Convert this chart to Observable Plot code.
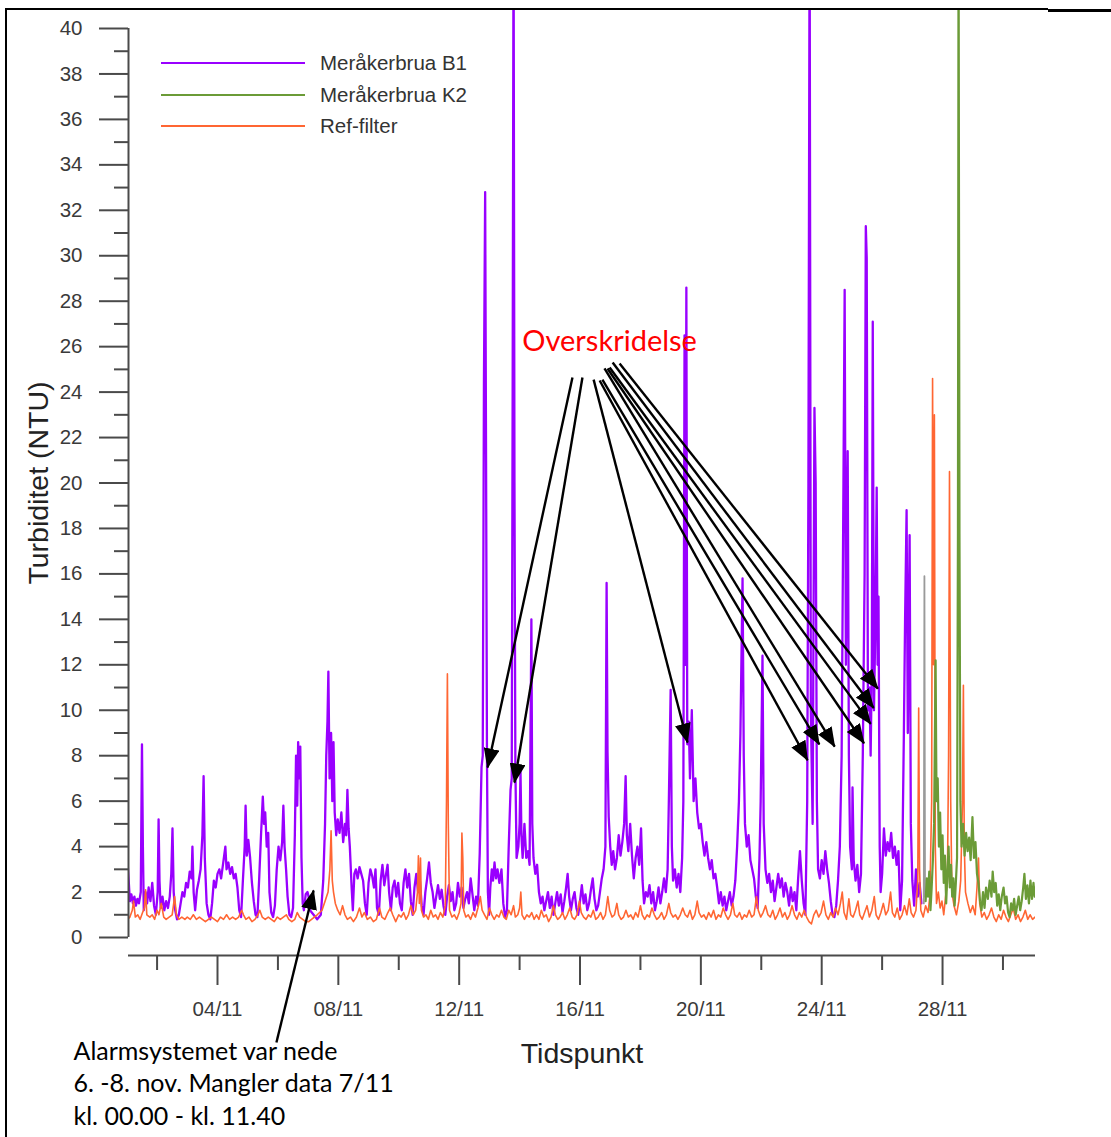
<!DOCTYPE html>
<html>
<head>
<meta charset="utf-8">
<script src="https://cdn.jsdelivr.net/npm/d3@7"></script>
<script src="https://cdn.jsdelivr.net/npm/@observablehq/plot@0.6"></script>
<style>
html, body { margin: 0; padding: 0; background: #fff; }
#wrap { position: relative; width: 1111px; height: 1137px; overflow: hidden; background: #fff; }
#wrap svg { position: absolute; left: 0; top: 0; }
.legend-item { position: absolute; height: 24px; font-family: "Liberation Sans", Arial, sans-serif; font-size: 20.5px; color: #333; }
.legend-line { position: absolute; left: 0; top: 11px; width: 144px; height: 2px; }
.legend-text { position: absolute; left: 159px; top: 0; white-space: nowrap; line-height: 24px; }
.border { position: absolute; background: #000; }
</style>
</head>
<body>
<div id="wrap"></div>
<script>
// ---------- series meta ----------
const seriesNames = ["Meråkerbrua B1", "Meråkerbrua K2", "Ref-filter"];
const seriesColors = ["#9900ff", "#6b9b37", "#ff6633"];
const transitionColor = "#9a9a9a";

// ---------- axes ----------
const xDomainDays = [1.054, 31.077];          // day of November (fractional)
const yDomain = [-0.792, 40.792];
const yMajorTicks = d3.range(0, 41, 2);
const yMinorTicks = d3.range(1, 40, 2);
const xMajorTickDays = [4, 8, 12, 16, 20, 24, 28];
const xMajorTickLabels = ["04/11", "08/11", "12/11", "16/11", "20/11", "24/11", "28/11"];
const xMinorTickDays = [2, 6, 10, 14, 18, 22, 26, 30];
const yLabel = "Turbiditet (NTU)";
const xLabel = "Tidspunkt";

// ---------- data: [day of November, NTU] ----------
const b1 = [
[1.02,3.4],[1.06,2.5],[1.10,1.6],[1.15,1.9],[1.20,1.5],[1.25,1.8],[1.30,1.4],[1.35,1.7],[1.40,1.5],[1.46,2.0],[1.50,8.5],[1.53,4.0],[1.56,1.2],[1.62,2.0],[1.67,1.5],[1.72,2.2],[1.78,1.6],[1.84,2.4],[1.90,1.4],[1.96,1.0],
[2.02,2.0],[2.05,5.2],[2.08,2.5],[2.12,1.3],[2.18,1.8],[2.24,1.2],[2.30,1.6],[2.36,1.3],[2.42,1.8],[2.47,2.8],[2.51,4.8],[2.55,2.0],[2.60,1.2],[2.66,0.8],[2.72,1.0],[2.78,1.5],[2.84,2.0],[2.90,1.8],[2.96,2.4],
[3.02,2.2],[3.08,2.9],[3.14,2.6],[3.17,4.0],[3.21,2.0],[3.26,1.2],[3.32,2.1],[3.38,2.5],[3.44,3.0],[3.50,4.5],[3.54,7.1],[3.58,3.5],[3.64,1.5],[3.70,1.0],[3.76,0.8],[3.82,1.5],[3.88,2.5],[3.94,2.2],
[4.00,2.8],[4.06,3.0],[4.12,2.6],[4.18,3.2],[4.26,4.0],[4.30,3.0],[4.36,3.3],[4.42,2.8],[4.48,3.1],[4.54,2.6],[4.60,2.8],[4.66,2.2],[4.72,1.2],[4.78,0.9],[4.84,2.5],[4.90,4.0],[4.93,5.8],[4.97,3.6],
[5.02,4.3],[5.08,3.5],[5.14,2.4],[5.20,1.6],[5.26,1.0],[5.32,0.9],[5.38,2.6],[5.44,4.5],[5.50,6.2],[5.54,5.0],[5.58,5.5],[5.63,4.0],[5.68,4.6],[5.72,2.0],[5.78,1.1],[5.84,0.9],[5.90,1.4],[5.96,3.0],
[6.02,4.0],[6.08,3.4],[6.14,4.2],[6.18,5.8],[6.22,4.0],[6.27,3.0],[6.32,1.8],[6.38,1.0],[6.44,0.9],[6.50,1.3],[6.56,4.5],[6.60,8.0],[6.64,5.8],[6.67,8.6],[6.70,7.0],[6.74,8.4],[6.78,3.5],[6.82,1.5],[6.86,1.2],[6.92,1.9],[6.98,2.0],
[7.03,1.7],[7.06,1.2],[7.30,0.8],[7.42,1.0],[7.50,2.5],[7.56,5.0],[7.60,8.0],[7.64,9.5],[7.67,11.7],[7.71,7.0],[7.76,9.0],[7.80,6.0],[7.84,8.6],[7.88,5.5],[7.93,4.5],[7.98,5.2],
[8.04,4.6],[8.10,5.5],[8.16,4.2],[8.22,5.0],[8.26,4.5],[8.30,6.5],[8.34,4.8],[8.38,4.0],[8.44,2.2],[8.48,1.2],[8.53,2.8],[8.58,3.0],[8.64,2.6],[8.70,3.1],[8.76,2.8],[8.82,2.5],[8.88,1.5],[8.94,1.0],
[9.00,2.4],[9.06,3.0],[9.12,2.7],[9.18,2.2],[9.23,3.0],[9.28,1.3],[9.34,1.0],[9.40,2.5],[9.46,3.2],[9.52,2.3],[9.58,2.8],[9.63,3.2],[9.68,2.0],[9.74,1.2],[9.80,2.2],[9.86,2.5],[9.92,1.8],[9.98,2.4],
[10.04,1.5],[10.10,1.2],[10.16,2.4],[10.22,3.0],[10.28,2.2],[10.34,2.8],[10.40,1.6],[10.46,1.0],[10.52,2.2],[10.58,2.8],[10.64,2.0],[10.70,2.5],[10.76,1.4],[10.82,1.0],[10.88,2.0],[10.94,2.6],
[11.00,3.3],[11.06,2.4],[11.12,2.0],[11.18,1.3],[11.24,1.8],[11.30,2.3],[11.36,1.7],[11.42,2.1],[11.48,1.4],[11.54,1.0],[11.60,1.8],[11.66,2.3],[11.72,1.6],[11.78,2.0],[11.84,1.2],[11.90,1.5],[11.96,2.4],
[12.02,1.8],[12.08,2.2],[12.14,1.3],[12.20,1.7],[12.26,2.0],[12.32,1.5],[12.38,2.6],[12.44,1.9],[12.50,1.2],[12.56,1.8],[12.62,1.4],[12.68,3.7],[12.74,7.5],[12.78,8.0],[12.82,24.5],[12.86,32.8],[12.89,21.0],[12.92,8.0],[12.95,2.0],[12.99,1.0],
[13.03,2.2],[13.08,3.0],[13.12,2.5],[13.17,3.3],[13.22,2.6],[13.27,3.0],[13.33,2.4],[13.40,3.0],[13.46,1.5],[13.52,0.9],[13.58,1.2],[13.64,4.0],[13.70,6.5],[13.74,7.0],[13.77,24.0],[13.80,45],[13.83,20.0],[13.86,7.5],[13.90,3.5],[13.96,4.0],
[14.00,5.0],[14.03,7.3],[14.06,4.5],[14.10,3.5],[14.16,5.0],[14.22,3.5],[14.28,3.8],[14.33,3.2],[14.39,14.0],[14.42,5.0],[14.46,3.5],[14.52,2.8],[14.58,3.2],[14.64,2.0],[14.70,1.5],[14.76,1.8],[14.82,1.2],[14.88,1.6],[14.94,2.0],
[15.00,1.3],[15.06,1.8],[15.12,1.0],[15.18,1.5],[15.24,2.0],[15.30,1.4],[15.36,1.9],[15.42,1.1],[15.48,1.6],[15.54,2.2],[15.59,2.8],[15.64,1.8],[15.70,1.2],[15.76,1.7],[15.82,2.0],[15.88,1.3],[15.94,1.0],
[16.00,1.6],[16.06,2.3],[16.12,1.5],[16.18,1.9],[16.24,1.2],[16.30,1.5],[16.36,2.1],[16.42,2.6],[16.48,1.7],[16.54,1.2],[16.60,1.4],[16.66,2.0],[16.72,2.6],[16.78,3.0],[16.84,4.0],[16.88,15.6],[16.91,8.2],[16.95,5.3],
[17.00,4.0],[17.05,3.2],[17.10,3.8],[17.16,3.0],[17.22,3.5],[17.28,4.5],[17.34,3.6],[17.40,4.2],[17.46,5.0],[17.51,7.1],[17.55,4.5],[17.60,3.8],[17.66,5.0],[17.72,3.6],[17.78,2.6],[17.84,3.5],[17.90,4.0],[17.96,3.2],
[18.02,4.8],[18.07,2.5],[18.12,1.5],[18.18,2.0],[18.24,1.8],[18.30,2.3],[18.36,1.5],[18.42,2.0],[18.48,1.2],[18.54,1.6],[18.60,2.2],[18.66,1.5],[18.72,2.0],[18.78,2.6],[18.84,2.0],[18.90,3.0],[18.94,6.0],
[19.00,10.9],[19.04,4.0],[19.08,2.5],[19.14,3.0],[19.20,2.2],[19.26,2.8],[19.32,2.0],[19.38,3.5],[19.42,6.0],[19.46,26.5],[19.49,12.0],[19.52,28.6],[19.55,8.5],[19.60,9.5],[19.64,7.0],[19.70,10.0],[19.76,6.0],[19.82,7.0],[19.88,5.5],[19.94,4.8],
[20.00,5.0],[20.06,4.2],[20.12,3.6],[20.18,4.2],[20.24,3.5],[20.30,3.0],[20.36,3.4],[20.42,2.6],[20.48,2.8],[20.54,2.2],[20.60,1.5],[20.66,2.0],[20.72,1.4],[20.78,1.8],[20.84,1.2],[20.90,1.6],[20.96,2.0],
[21.02,1.4],[21.08,1.8],[21.14,2.5],[21.20,4.0],[21.26,6.0],[21.31,9.0],[21.38,15.8],[21.42,8.0],[21.46,5.0],[21.52,4.0],[21.58,4.5],[21.64,3.4],[21.70,3.0],[21.76,2.6],[21.82,1.8],[21.88,1.3],[21.94,3.5],[21.98,6.0],
[22.04,12.4],[22.08,5.0],[22.14,3.0],[22.20,2.4],[22.26,2.8],[22.32,2.0],[22.38,2.5],[22.44,1.6],[22.50,2.2],[22.56,2.8],[22.62,2.2],[22.68,2.6],[22.74,1.8],[22.80,2.4],[22.86,2.0],[22.92,1.4],[22.98,2.2],
[23.04,1.6],[23.10,2.0],[23.16,1.2],[23.22,2.6],[23.28,3.8],[23.34,2.5],[23.40,1.5],[23.46,1.0],[23.52,6.0],[23.56,20.0],[23.60,45],[23.64,10.0],[23.70,5.0],[23.76,23.3],[23.80,20.0],[23.84,6.0],[23.88,3.0],[23.94,2.6],
[24.00,3.4],[24.06,2.8],[24.12,3.8],[24.18,3.0],[24.24,2.4],[24.30,1.6],[24.36,1.0],[24.42,0.9],[24.48,1.4],[24.54,2.5],[24.60,4.0],[24.66,8.0],[24.72,20.0],[24.76,28.5],[24.80,12.0],[24.86,21.4],[24.90,8.0],[24.94,4.0],
[25.00,3.0],[25.02,6.6],[25.06,3.4],[25.12,2.5],[25.18,3.2],[25.24,2.0],[25.30,2.8],[25.36,8.0],[25.42,16.0],[25.46,31.3],[25.49,29.9],[25.53,10.0],[25.58,11.0],[25.62,8.0],[25.66,12.0],[25.69,27.1],[25.73,10.0],[25.78,14.0],[25.82,19.8],[25.85,12.0],[25.88,15.0],[25.92,4.0],[25.95,2.0],
[26.00,2.8],[26.06,4.8],[26.12,3.6],[26.18,4.2],[26.24,3.8],[26.30,4.6],[26.36,3.5],[26.42,4.0],[26.48,3.2],[26.54,3.8],[26.60,1.2],[26.66,2.5],[26.72,9.0],[26.76,14.0],[26.81,18.8],[26.85,9.0],[26.91,17.7],[26.95,5.0],
[27.00,2.5],[27.06,1.4],[27.12,3.0],[27.18,1.8],[27.24,2.4],[27.30,1.5]
];

const k2Start = [[27.38,1.5],[27.40,15.9],[27.42,1.8]];

const k2 = [
[27.44,1.6],[27.48,2.6],[27.52,1.8],[27.56,2.9],[27.60,1.2],[27.64,2.2],[27.68,3.4],[27.72,5.0],[27.77,12.2],[27.80,6.0],[27.84,7.0],[27.88,4.0],[27.92,5.5],[27.96,3.0],
[28.00,4.5],[28.04,2.4],[28.08,3.6],[28.12,1.5],[28.16,2.8],[28.20,4.0],[28.24,2.2],[28.28,3.2],[28.32,1.8],[28.36,2.6],[28.40,1.4],[28.44,2.4],[28.48,3.5],[28.51,18.0],[28.53,45],[28.56,17.8],[28.59,6.0],[28.63,4.0],[28.68,5.0],[28.73,3.6],[28.78,4.6],[28.83,3.8],[28.88,4.4],[28.93,3.4],[28.99,5.3],
[29.04,3.5],[29.09,4.2],[29.14,2.8],[29.19,2.4],[29.24,1.6],[29.29,1.2],[29.34,2.0],[29.39,1.3],[29.44,2.2],[29.50,1.7],[29.56,2.5],[29.62,1.8],[29.66,2.9],[29.71,2.0],[29.76,2.4],[29.81,1.4],[29.86,1.9],[29.91,1.2],[29.96,1.8],
[30.02,2.2],[30.07,1.5],[30.12,1.8],[30.17,1.1],[30.22,0.9],[30.27,1.5],[30.32,1.2],[30.37,1.7],[30.42,1.0],[30.47,1.4],[30.52,1.8],[30.57,1.2],[30.62,1.6],[30.67,2.2],[30.71,2.8],[30.76,1.7],[30.81,2.3],[30.86,1.5],[30.91,2.5],[30.96,1.7],
[31.01,2.4],[31.05,1.8],[31.08,2.2]
];

const refFilter = [
[1.02,0.8],[1.10,0.9],[1.18,1.2],[1.22,1.6],[1.28,0.9],[1.36,1.0],[1.44,0.8],[1.52,1.1],[1.58,1.3],[1.62,2.1],[1.66,1.0],[1.76,0.9],[1.84,1.0],[1.92,0.8],
[2.00,1.2],[2.06,1.0],[2.14,1.5],[2.22,0.9],[2.30,0.8],[2.40,0.9],[2.50,1.0],[2.58,1.8],[2.64,1.0],[2.72,0.8],[2.82,0.9],[2.92,0.8],
[3.00,0.9],[3.10,0.8],[3.20,1.0],[3.30,0.8],[3.40,0.9],[3.50,0.8],[3.60,0.7],[3.70,0.8],[3.80,0.9],[3.90,0.8],
[4.00,0.7],[4.10,0.9],[4.20,0.8],[4.30,1.0],[4.40,0.8],[4.50,0.9],[4.60,0.8],[4.70,0.9],[4.80,1.2],[4.86,1.0],[4.94,0.8],
[5.04,0.9],[5.14,0.7],[5.24,0.8],[5.34,1.0],[5.40,1.2],[5.48,0.9],[5.58,0.8],[5.68,0.9],[5.78,0.8],[5.88,0.7],[5.98,0.9],
[6.08,0.8],[6.18,0.9],[6.28,1.0],[6.36,0.8],[6.46,0.7],[6.56,0.8],[6.64,1.1],[6.72,0.9],[6.82,0.8],[6.92,0.7],
[7.02,0.7],[7.30,1.0],[7.46,1.2],[7.56,1.6],[7.66,2.0],[7.72,3.0],[7.76,4.7],[7.80,2.5],[7.84,2.0],[7.90,1.5],[7.98,1.2],
[8.06,1.0],[8.14,1.4],[8.22,1.0],[8.30,0.8],[8.40,0.9],[8.50,0.7],[8.60,0.9],[8.70,1.3],[8.78,0.9],[8.86,1.1],[8.96,0.8],
[9.06,0.9],[9.16,0.7],[9.26,0.8],[9.36,1.3],[9.44,0.9],[9.54,0.8],[9.64,1.1],[9.72,1.3],[9.80,1.0],[9.90,0.7],
[10.00,1.0],[10.08,0.9],[10.16,1.1],[10.24,0.8],[10.32,1.0],[10.40,1.4],[10.48,1.0],[10.56,1.2],[10.62,2.0],[10.65,3.6],[10.68,1.5],[10.72,3.5],[10.75,1.2],[10.82,0.9],[10.90,1.0],[10.98,0.8],
[11.06,1.2],[11.14,0.9],[11.22,1.0],[11.30,0.8],[11.38,1.1],[11.46,0.9],[11.54,1.4],[11.58,6.0],[11.61,11.6],[11.64,5.0],[11.68,1.2],[11.76,0.9],[11.84,1.0],[11.92,0.8],
[12.00,1.1],[12.06,1.5],[12.09,4.6],[12.12,3.5],[12.15,1.2],[12.22,0.9],[12.30,1.0],[12.38,0.8],[12.46,1.1],[12.54,0.9],[12.62,1.3],[12.70,1.8],[12.76,1.2],[12.84,1.0],[12.92,0.8],
[13.00,1.3],[13.08,1.0],[13.16,0.8],[13.24,1.0],[13.32,0.9],[13.40,1.2],[13.48,0.9],[13.56,0.8],[13.64,1.2],[13.72,1.0],[13.80,1.4],[13.86,0.9],[13.94,1.0],
[14.00,1.3],[14.04,2.0],[14.08,1.0],[14.16,0.8],[14.24,1.0],[14.32,0.9],[14.40,1.1],[14.48,0.8],[14.56,1.0],[14.64,0.8],[14.72,1.2],[14.80,0.9],[14.88,1.0],[14.96,0.7],
[15.04,0.9],[15.12,1.4],[15.18,1.0],[15.26,0.8],[15.34,0.9],[15.42,1.1],[15.50,0.8],[15.58,1.0],[15.66,1.3],[15.74,0.9],[15.82,0.8],[15.90,1.0],[15.98,1.6],
[16.04,1.1],[16.12,0.9],[16.20,0.8],[16.28,1.0],[16.36,0.9],[16.44,1.2],[16.52,0.8],[16.60,0.9],[16.68,1.1],[16.76,0.8],[16.84,1.0],[16.92,1.8],[16.98,1.2],
[17.06,0.9],[17.14,1.0],[17.22,1.5],[17.28,1.0],[17.36,0.8],[17.44,0.9],[17.52,1.2],[17.60,0.9],[17.68,1.0],[17.76,0.8],[17.84,1.1],[17.92,0.9],
[18.00,1.4],[18.06,1.0],[18.14,0.8],[18.22,1.0],[18.30,0.9],[18.38,1.3],[18.46,1.0],[18.54,0.8],[18.62,0.9],[18.70,1.1],[18.78,0.8],[18.86,1.0],[18.94,1.5],
[19.00,1.1],[19.08,0.9],[19.16,1.0],[19.24,0.8],[19.32,1.0],[19.40,1.3],[19.48,1.0],[19.56,0.9],[19.64,1.2],[19.72,0.8],[19.80,1.0],[19.88,1.6],[19.94,1.1],
[20.02,0.9],[20.10,1.0],[20.18,0.8],[20.26,1.1],[20.34,0.9],[20.42,1.2],[20.50,0.8],[20.58,1.0],[20.66,0.9],[20.74,1.3],[20.82,1.0],[20.90,0.8],[20.98,1.0],
[21.06,1.5],[21.12,1.0],[21.20,0.9],[21.28,1.1],[21.36,0.8],[21.44,1.0],[21.52,0.9],[21.60,1.2],[21.68,0.9],[21.76,1.0],[21.84,1.8],[21.90,1.2],[21.98,0.9],
[22.06,1.1],[22.14,1.4],[22.22,1.0],[22.30,0.9],[22.38,1.2],[22.46,0.8],[22.54,1.0],[22.62,1.3],[22.70,0.9],[22.78,1.1],[22.86,0.8],[22.94,1.0],
[23.02,1.4],[23.10,1.0],[23.18,0.8],[23.26,1.1],[23.34,0.9],[23.42,1.2],[23.50,0.9],[23.58,0.7],[23.66,0.6],[23.74,1.0],[23.82,1.2],[23.90,0.9],[23.98,1.1],
[24.06,1.6],[24.14,1.0],[24.22,0.8],[24.30,1.1],[24.38,0.9],[24.46,1.3],[24.54,1.0],[24.62,1.5],[24.68,2.0],[24.74,1.1],[24.82,0.8],[24.90,1.7],[24.96,1.0],
[25.04,0.9],[25.12,1.2],[25.20,1.6],[25.26,1.0],[25.34,0.8],[25.42,1.1],[25.50,1.4],[25.58,0.9],[25.66,1.2],[25.74,1.8],[25.80,1.0],[25.88,0.8],[25.96,1.1],
[26.04,1.5],[26.12,1.0],[26.20,1.2],[26.28,2.0],[26.34,1.1],[26.42,0.9],[26.50,1.3],[26.58,0.8],[26.66,1.0],[26.74,1.4],[26.82,1.0],[26.90,1.7],[26.96,1.1],
[27.04,0.9],[27.12,1.2],[27.18,2.5],[27.21,10.1],[27.24,3.0],[27.28,1.2],[27.36,0.9],[27.44,1.4],[27.52,1.1],[27.58,1.8],[27.64,6.0],[27.67,24.6],[27.70,12.0],[27.73,23.0],[27.76,4.0],[27.80,1.5],[27.86,2.0],[27.92,1.3],[27.98,1.6],
[28.04,1.0],[28.10,1.8],[28.16,2.4],[28.20,8.0],[28.23,20.5],[28.27,6.0],[28.31,2.0],[28.38,1.4],[28.46,1.0],[28.54,1.6],[28.60,2.5],[28.66,6.0],[28.69,11.1],[28.72,4.0],[28.76,2.0],[28.84,1.5],[28.92,1.1],
[29.00,1.4],[29.08,1.0],[29.14,2.2],[29.19,3.5],[29.23,1.5],[29.30,0.9],[29.38,1.1],[29.46,0.8],[29.54,1.0],[29.62,1.3],[29.70,0.9],[29.78,0.7],[29.86,1.0],[29.94,0.8],
[30.02,1.2],[30.10,0.9],[30.18,0.7],[30.26,1.0],[30.34,1.3],[30.42,0.8],[30.50,1.0],[30.58,0.7],[30.66,0.9],[30.74,1.2],[30.82,0.8],[30.90,1.0],[30.98,0.8],[31.06,0.9]
];

// ---------- annotations ----------
const exceedLabel = "Overskridelse";
const exceedLabelAt = [16.98, 26.2];
const exceedFrom = [[15.75,24.64],[16.08,24.64],[16.45,24.55],[16.65,24.51],[16.74,24.55],[16.81,25.04],[16.91,25.04],[16.98,25.08],[17.08,25.30],[17.31,25.26]];
const exceedTo   = [[12.94,7.48],[13.83,6.82],[19.56,8.58],[23.53,7.80],[23.92,8.50],[24.43,8.40],[25.40,8.55],[25.62,9.40],[25.72,10.10],[25.86,10.95]];
const alarmFrom = [5.95, -4.62];
const alarmTo = [7.18, 2.07];
const alarmNote = "Alarmsystemet var nede\n6. -8. nov. Mangler data 7/11\nkl. 00.00 - kl. 11.40";

// ---------- helpers ----------
const DAY = 864e5;
const T0 = Date.UTC(2013, 10, 1);
const toDate = d => new Date(T0 + (d - 1) * DAY);
const rows = arr => arr.map(([d, v]) => ({date: toDate(d), value: v}));
const majorLabelMap = new Map(xMajorTickDays.map((d, i) => [+toDate(d), xMajorTickLabels[i]]));
const arrowRows = exceedFrom.map((f, i) => ({x1: toDate(f[0]), y1: f[1], x2: toDate(exceedTo[i][0]), y2: exceedTo[i][1]}))
  .concat([{x1: toDate(alarmFrom[0]), y1: alarmFrom[1], x2: toDate(alarmTo[0]), y2: alarmTo[1]}]);

const axisColor = "#4a4a4a";
const tickFont = 20.5;

const plot = Plot.plot({
  width: 1111,
  height: 1137,
  marginLeft: 128,
  marginRight: 76,
  marginTop: 10,
  marginBottom: 182,
  style: {fontFamily: "'Liberation Sans', Arial, sans-serif", fontSize: "20px", color: "#333", background: "transparent", overflow: "visible"},
  x: {type: "utc", domain: xDomainDays.map(toDate)},
  y: {domain: yDomain},
  marks: [
    Plot.line(rows(b1), {x: "date", y: "value", stroke: seriesColors[0], strokeWidth: 2.3, strokeLinejoin: "round", clip: true}),
    Plot.line(rows(refFilter), {x: "date", y: "value", stroke: seriesColors[2], strokeWidth: 1.6, strokeLinejoin: "round", clip: true}),
    Plot.line(rows(k2Start), {x: "date", y: "value", stroke: transitionColor, strokeWidth: 1.8, clip: true}),
    Plot.line(rows(k2), {x: "date", y: "value", stroke: seriesColors[1], strokeWidth: 2.2, strokeLinejoin: "round", clip: true}),
    // axes
    Plot.ruleX([toDate(xDomainDays[0])], {y1: 0, y2: 40, stroke: axisColor, strokeWidth: 2}),
    Plot.ruleY([yDomain[0]], {stroke: axisColor, strokeWidth: 2}),
    Plot.axisY(yMajorTicks, {anchor: "left", tickSize: 29, tickPadding: 17, stroke: axisColor, strokeWidth: 2, fill: "#3a3a3a", fontSize: tickFont, label: null}),
    Plot.axisY(yMinorTicks, {anchor: "left", tickSize: 14, stroke: axisColor, strokeWidth: 2, tickFormat: () => "", label: null}),
    Plot.axisX(xMajorTickDays.map(toDate), {anchor: "bottom", tickSize: 30, tickPadding: 16, stroke: axisColor, strokeWidth: 2, fill: "#3a3a3a", fontSize: tickFont, tickFormat: d => majorLabelMap.get(+d), label: null}),
    Plot.axisX(xMinorTickDays.map(toDate), {anchor: "bottom", tickSize: 15, stroke: axisColor, strokeWidth: 2, tickFormat: () => "", label: null}),
    Plot.text([yLabel], {text: d => d, frameAnchor: "left", textAnchor: "middle", lineAnchor: "middle", dx: -90, rotate: -90, fontSize: 28.5, fill: "#222"}),
    Plot.text([xLabel], {text: d => d, frameAnchor: "bottom", textAnchor: "middle", lineAnchor: "middle", dy: 98, fontSize: 28.5, fill: "#222"}),
    // annotations
    Plot.link(arrowRows, {x1: "x1", y1: "y1", x2: "x2", y2: "y2", stroke: "#000", strokeWidth: 2.4}),
    Plot.text([exceedLabel], {x: () => toDate(exceedLabelAt[0]), y: () => exceedLabelAt[1], text: d => d, fill: "#ff0000", fontSize: 29, fontFamily: "Lato, 'Open Sans', sans-serif"}),
    Plot.text([alarmNote], {text: d => d, frameAnchor: "bottom-left", dx: -55, dy: 81, textAnchor: "start", lineAnchor: "top", lineHeight: 1.3, fontSize: 25, fill: "#000", fontFamily: "Lato, 'Open Sans', sans-serif"})
  ]
});

// filled arrow heads for the annotation links
const ns = "http://www.w3.org/2000/svg";
const defs = document.createElementNS(ns, "defs");
const marker = document.createElementNS(ns, "marker");
marker.setAttribute("id", "ahead");
marker.setAttribute("viewBox", "0 0 20 16");
marker.setAttribute("refX", "19");
marker.setAttribute("refY", "8");
marker.setAttribute("markerWidth", "20");
marker.setAttribute("markerHeight", "16");
marker.setAttribute("markerUnits", "userSpaceOnUse");
marker.setAttribute("orient", "auto");
const mpath = document.createElementNS(ns, "path");
mpath.setAttribute("d", "M0,0L20,8L0,16z");
mpath.setAttribute("fill", "#000");
marker.appendChild(mpath);
defs.appendChild(marker);
plot.insertBefore(defs, plot.firstChild);
plot.querySelectorAll('g[aria-label="link"] path').forEach(p => p.setAttribute("marker-end", "url(#ahead)"));

const wrap = document.getElementById("wrap");
wrap.appendChild(plot);

// legend
const legendTop = [51, 83, 114];
seriesNames.forEach((name, i) => {
  const item = document.createElement("div");
  item.className = "legend-item";
  item.style.left = "161px";
  item.style.top = legendTop[i] + "px";
  const ln = document.createElement("div");
  ln.className = "legend-line";
  ln.style.background = seriesColors[i];
  const tx = document.createElement("div");
  tx.className = "legend-text";
  tx.textContent = name;
  item.appendChild(ln);
  item.appendChild(tx);
  wrap.appendChild(item);
});

// page frame
[[5, 8, 1043, 2], [1048, 9, 63, 3], [5, 8, 2, 1129]].forEach(([l, t, w, h]) => {
  const b = document.createElement("div");
  b.className = "border";
  Object.assign(b.style, {left: l + "px", top: t + "px", width: w + "px", height: h + "px"});
  wrap.appendChild(b);
});
</script>
</body>
</html>
